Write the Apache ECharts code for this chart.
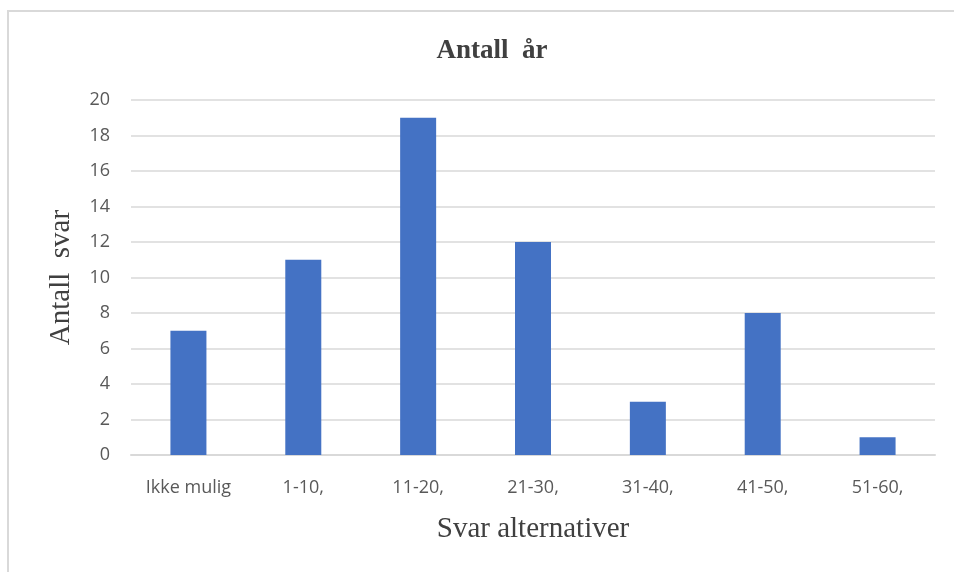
<!DOCTYPE html>
<html>
<head>
<meta charset="utf-8">
<script src="https://cdn.jsdelivr.net/npm/echarts@6/dist/echarts.min.js"></script>
<style>
  html, body { margin: 0; padding: 0; background: #fff; }
  #chart { width: 954px; height: 572px; }
</style>
</head>
<body>
<div id="chart"></div>
<script>
// kategorier og verdier
var categories = ['Ikke mulig', '1-10,', '11-20,', '21-30,', '31-40,', '41-50,', '51-60,'];
var antallSvar = [7, 11, 19, 12, 3, 8, 1];
var yTicks = [0, 2, 4, 6, 8, 10, 12, 14, 16, 18, 20];

var myChart = echarts.init(document.getElementById('chart'));
var option = {
    animation: false,
    backgroundColor: '#fff',
    title: {
        text: 'Antall  år',
        left: 487,
        top: 33,
        textAlign: 'center',
        textStyle: {
            fontFamily: 'Liberation Serif',
            fontWeight: 'bold',
            fontSize: 27,
            color: '#404040'
        }
    },
    graphic: [
        { type: 'rect', shape: { x: 7, y: 10, width: 2, height: 562 }, style: { fill: '#d9d9d9' } },
        { type: 'rect', shape: { x: 7, y: 10, width: 947, height: 2 }, style: { fill: '#d9d9d9' } }
    ],
    grid: {
        left: 131,
        right: 19,
        top: 100,
        bottom: 117
    },
    xAxis: {
        type: 'category',
        data: categories,
        name: 'Svar alternativer',
        nameLocation: 'middle',
        nameGap: 60,
        nameTextStyle: {
            fontFamily: 'Liberation Serif',
            fontSize: 29,
            color: '#404040'
        },
        axisLine: { lineStyle: { color: '#d9d9d9', width: 2 } },
        axisTick: { show: false },
        axisLabel: {
            margin: 24,
            fontFamily: 'Open Sans',
            fontSize: 18,
            color: '#595959'
        }
    },
    yAxis: {
        type: 'value',
        min: yTicks[0],
        max: yTicks[yTicks.length - 1],
        interval: 2,
        name: 'Antall  svar',
        nameLocation: 'middle',
        nameGap: 55,
        nameTextStyle: {
            fontFamily: 'Liberation Serif',
            fontSize: 29,
            color: '#404040'
        },
        axisLine: { show: false },
        axisTick: { show: false },
        axisLabel: {
            margin: 21,
            fontFamily: 'Open Sans',
            fontSize: 18,
            color: '#595959'
        },
        splitLine: { lineStyle: { color: '#d9d9d9', width: 1.5 } }
    },
    series: [{
        type: 'bar',
        data: antallSvar,
        barWidth: 36,
        itemStyle: { color: '#4472c4' }
    }]
};
myChart.setOption(option);
</script>
</body>
</html>
